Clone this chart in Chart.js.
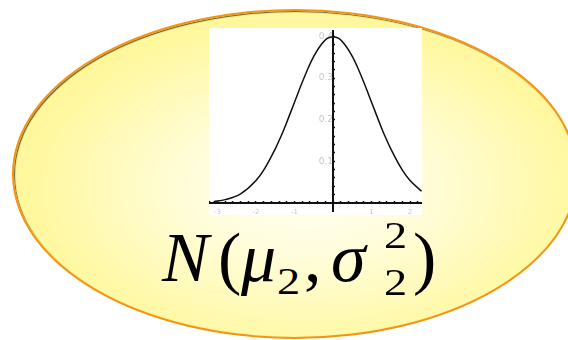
<!DOCTYPE html>
<html lang="en">
<head>
  <meta charset="UTF-8" />
  <title>N(μ2, σ2²)</title>
  <script src="https://cdn.jsdelivr.net/npm/chart.js"></script>
  <style>
    html, body { margin: 0; padding: 0; background: #fff; }
    body { width: 568px; height: 340px; position: relative; overflow: hidden; }
    .bubble {
      position: absolute; left: 12px; top: 9px; width: 562px; height: 326px;
      border: 2px solid #f5950f; border-radius: 50%;
      background: radial-gradient(ellipse at 52% 54%, #fffff6 0%, #fffdd8 30%, #fff8a0 66%, #fff27a 100%);
      box-shadow: inset 1px 1px 1px rgba(30, 30, 10, 0.7);
    }
    .plot {
      position: absolute; left: 209px; top: 28px; width: 213px; height: 187px;
      background: #fff; overflow: hidden;
    }
    .plot canvas { position: absolute; left: -10px; top: -10px; }
    .formula span {
      position: absolute; font-family: "Liberation Serif", "DejaVu Serif", serif;
      line-height: 1; color: #000; white-space: nowrap; transform-origin: left top;
    }
    .big { font-size: 70px; }
    .small { font-size: 38px; transform: scaleX(1.22); }
    .it { font-style: italic; }
  </style>
</head>
<body>
  <div class="bubble"></div>
  <div class="plot"><canvas id="curve" width="233" height="207"></canvas></div>
  <div class="formula">
    <span class="big it" style="left:162px; top:223px;">N</span>
    <span class="big" style="left:218px; top:223px;">(</span>
    <span class="big it" style="left:241px; top:223px;">μ</span>
    <span class="small" style="left:277px; top:262px;">2</span>
    <span class="big" style="left:304px; top:223px;">,</span>
    <span class="big it" style="left:331px; top:223px;">σ</span>
    <span class="small" style="left:384px; top:216px;">2</span>
    <span class="small" style="left:384px; top:263px;">2</span>
    <span class="big" style="left:413px; top:223px;">)</span>
  </div>

  <script>
    // curve
    const xValues = [-3.1, -2.8, -2.4, -2.0, -1.8, -1.5, -1.35, -1.2, -1.0, -0.85, -0.65, -0.5, -0.3, -0.15, 0,
                     0.15, 0.3, 0.5, 0.65, 0.85, 1.0, 1.2, 1.35, 1.5, 1.8, 2.0, 2.3];
    const yValues = [0.003, 0.008, 0.022, 0.054, 0.079, 0.130, 0.160, 0.194, 0.242, 0.278, 0.323, 0.352, 0.381, 0.395, 0.399,
                     0.395, 0.381, 0.352, 0.323, 0.278, 0.242, 0.194, 0.160, 0.130, 0.079, 0.054, 0.028];

    // tick marks and their labels
    const xTicks = [-3.2, -3.0, -2.8, -2.6, -2.4, -2.2, -2.0, -1.8, -1.6, -1.4, -1.2, -1.0, -0.8, -0.6, -0.4, -0.2, 0,
                    0.2, 0.4, 0.6, 0.8, 1.0, 1.2, 1.4, 1.6, 1.8, 2.0, 2.2];
    const xTickLabels = { '-3': '-3', '-2': '-2', '-1': '-1', '1': '1', '2': '2' };
    const yTicks = [0.02, 0.04, 0.06, 0.08, 0.10, 0.12, 0.14, 0.16, 0.18, 0.20, 0.22, 0.24, 0.26, 0.28, 0.30,
                    0.32, 0.34, 0.36, 0.38, 0.40];
    const yTickLabels = { '0.1': '0.1', '0.2': '0.2', '0.3': '0.3', '0.4': '0.4' };

    function labelFor(table, v) {
      const key = String(Math.round(v * 100) / 100);
      return table[key] || '';
    }

    const ctx = document.getElementById('curve').getContext('2d');

    new Chart(ctx, {
      type: 'line',
      data: {
        datasets: [{
          data: xValues.map((x, i) => ({ x: x, y: yValues[i] })),
          borderColor: '#111',
          borderWidth: 1.5,
          pointRadius: 0,
          fill: false,
          cubicInterpolationMode: 'monotone'
        }]
      },
      options: {
        responsive: false,
        animation: false,
        layout: { padding: 10 },
        plugins: { legend: { display: false }, tooltip: { enabled: false } },
        scales: {
          x: {
            type: 'linear',
            min: -3.22,
            max: 2.31,
            position: { y: 0 },
            afterBuildTicks: s => { s.ticks = xTicks.map(v => ({ value: v })); },
            grid: { drawOnChartArea: false, drawTicks: true, tickLength: -3, tickColor: '#111', tickWidth: 1.5 },
            border: { color: '#111', width: 2 },
            ticks: {
              padding: 8, autoSkip: false, maxRotation: 0, color: '#c6c6c6',
              font: { size: 7, family: 'DejaVu Sans' },
              callback: v => labelFor(xTickLabels, v)
            }
          },
          y: {
            type: 'linear',
            min: -0.0208,
            max: 0.412,
            position: { x: 0 },
            afterBuildTicks: s => { s.ticks = yTicks.map(v => ({ value: v })); },
            grid: { drawOnChartArea: false, drawTicks: true, tickLength: -3, tickColor: '#111', tickWidth: 1.5 },
            border: { color: '#111', width: 2 },
            ticks: {
              padding: 8, autoSkip: false, color: '#c6c6c6',
              font: { size: 9, family: 'DejaVu Sans' },
              callback: v => labelFor(yTickLabels, v)
            }
          }
        }
      }
    });
  </script>
</body>
</html>
